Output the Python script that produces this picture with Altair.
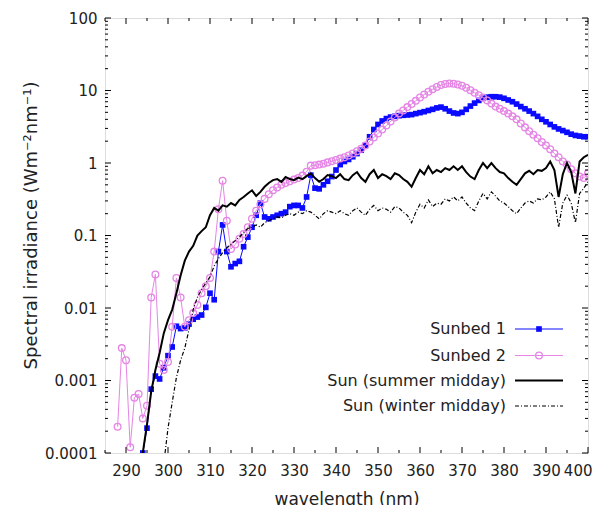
import altair as alt
import pandas as pd

# ---------------- data ----------------
WL_SUNBED1 = list(range(294, 401))
SUNBED1 = [
    0.0001, 0.00022, 0.00076, 0.00115, 0.00105, 0.0015, 0.0022, 0.0029, 0.0056, 0.0052,   # 294-303
    0.0053, 0.006, 0.007, 0.0075, 0.008, 0.0102, 0.016, 0.013, 0.06, 0.14,               # 304-313
    0.06, 0.037, 0.041, 0.044, 0.07, 0.095, 0.13, 0.19, 0.28, 0.18,                       # 314-323
    0.17, 0.18, 0.19, 0.2, 0.21, 0.25, 0.26, 0.26, 0.24, 0.34,                            # 324-333
    0.68, 0.45, 0.44, 0.5, 0.56, 0.65, 0.8, 0.95, 1.05, 1.12,                             # 334-343
    1.22, 1.35, 1.5, 1.75, 2.3, 2.9, 3.4, 3.8, 4.1, 4.3,                                  # 344-353
    4.4, 4.5, 4.55, 4.6, 4.65, 4.8, 4.95, 5.1, 5.3, 5.5,                                  # 354-363
    5.75, 5.9, 5.6, 5.2, 4.9, 4.8, 5.0, 5.5, 6.1, 6.7,                                    # 364-373
    7.3, 7.8, 8.1, 8.2, 8.2, 8.1, 7.8, 7.4, 7.0, 6.5,                                     # 374-383
    6.0, 5.6, 5.2, 4.8, 4.4, 4.0, 3.7, 3.4, 3.15, 2.95,                                   # 384-393
    2.8, 2.65, 2.5, 2.4, 2.35, 2.3, 2.3,                                                  # 394-400
]

WL_SUNBED2 = list(range(288, 401))
SUNBED2 = [
    0.00023, 0.0028, 0.0019, 0.00012, 0.00058, 0.00065, 0.0003, 0.00045, 0.014, 0.029,    # 288-297
    0.0017, 0.0014, 0.0018, 0.0055, 0.026, 0.014, 0.0055, 0.0068, 0.0085, 0.011,          # 298-307
    0.016, 0.02, 0.026, 0.06, 0.23, 0.57, 0.16, 0.065, 0.075, 0.09,                       # 308-317
    0.105, 0.13, 0.17, 0.22, 0.27, 0.32, 0.37, 0.42, 0.46, 0.5,                           # 318-327
    0.53, 0.56, 0.59, 0.62, 0.67, 0.76, 0.92, 0.93, 0.95, 0.98,                           # 328-337
    1.02, 1.06, 1.1, 1.15, 1.2, 1.27, 1.35, 1.45, 1.57, 1.75,                             # 338-347
    1.98, 2.25, 2.55, 2.9, 3.3, 3.75, 4.25, 4.8, 5.3, 5.9,                                # 348-357
    6.5, 7.2, 8.0, 8.8, 9.6, 10.4, 11.2, 11.9, 12.3, 12.5,                                # 358-367
    12.4, 12.1, 11.6, 10.9, 10.1, 9.3, 8.6, 8.0, 7.3, 6.6,                                # 368-377
    6.0, 5.6, 5.2, 4.8, 4.4, 4.0, 3.5, 3.1, 2.75, 2.45,                                   # 378-387
    2.2, 1.95, 1.75, 1.55, 1.35, 1.2, 1.05, 0.95, 0.82, 0.72,                             # 388-397
    0.65, 0.62, 0.72,                                                                     # 398-400
]

WL_SUMMER = list(range(294, 401))
SUMMER = [
    0.0001, 0.00025, 0.0007, 0.0014, 0.0024, 0.0045, 0.0068, 0.0095, 0.016, 0.028,        # 294-303
    0.045, 0.06, 0.072, 0.1, 0.115, 0.13, 0.19, 0.24, 0.22, 0.26,                         # 304-313
    0.25, 0.28, 0.26, 0.31, 0.34, 0.38, 0.42, 0.35, 0.4, 0.47,                            # 314-323
    0.53, 0.58, 0.6, 0.55, 0.64, 0.6, 0.58, 0.63, 0.6, 0.66,                              # 324-333
    0.72, 0.62, 0.55, 0.6, 0.68, 0.66, 0.62, 0.7, 0.6, 0.58,                              # 334-343
    0.68, 0.75, 0.62, 0.55, 0.7, 0.8, 0.62, 0.7, 0.66, 0.6,                               # 344-353
    0.72, 0.68, 0.6, 0.55, 0.47, 0.62, 0.8, 0.7, 0.9, 0.72,                               # 354-363
    0.8, 0.75, 0.85, 0.8, 0.9, 0.8, 0.9, 0.75, 0.65, 0.6,                                 # 364-373
    0.8, 1.0, 0.85, 1.0, 0.85, 0.75, 0.72, 0.62, 0.55, 0.5,                               # 374-383
    0.6, 0.72, 0.78, 0.7, 0.8, 0.78, 0.85, 1.05, 0.8, 0.34,                               # 384-393
    0.7, 1.0, 0.75, 0.38, 1.05, 1.2, 1.3,                                                 # 394-400
]

WL_WINTER = [299.3] + list(range(300, 401))
WINTER = [
    0.0001,                                                                               # 299.3
    0.00022, 0.0005, 0.0011, 0.0019, 0.0028, 0.005, 0.0095, 0.014, 0.018, 0.022,          # 300-309
    0.027, 0.038, 0.048, 0.058, 0.068, 0.075, 0.085, 0.095, 0.11, 0.125,                  # 310-319
    0.13, 0.14, 0.13, 0.15, 0.16, 0.17, 0.18, 0.175, 0.19, 0.2,                           # 320-329
    0.19, 0.21, 0.2, 0.22, 0.21, 0.19, 0.17, 0.2, 0.22, 0.21,                             # 330-339
    0.2, 0.22, 0.2, 0.19, 0.22, 0.24, 0.21, 0.19, 0.23, 0.26,                             # 340-349
    0.22, 0.24, 0.23, 0.21, 0.25, 0.24, 0.21, 0.19, 0.15, 0.21,                           # 350-359
    0.27, 0.24, 0.31, 0.25, 0.28, 0.27, 0.32, 0.3, 0.34, 0.3,                             # 360-369
    0.34, 0.28, 0.24, 0.22, 0.3, 0.38, 0.32, 0.4, 0.35, 0.3,                              # 370-379
    0.28, 0.25, 0.22, 0.2, 0.24, 0.28, 0.3, 0.28, 0.32, 0.31,                             # 380-389
    0.34, 0.4, 0.32, 0.13, 0.28, 0.36, 0.28, 0.15, 0.38, 0.45,                            # 390-399
    0.55,                                                                                 # 400
]

SERIES = ["Sunbed 1", "Sunbed 2", "Sun (summer midday)", "Sun (winter midday)"]
X_LABELS = [290, 300, 310, 320, 330, 340, 350, 360, 370, 380, 390, 400]
X_MINOR = [285, 295, 305, 315, 325, 335, 345, 355, 365, 375, 385, 395]
Y_LABELS = [0.0001, 0.001, 0.01, 0.1, 1, 10, 100]
Y_MINOR = [m * d for d in [0.0001, 0.001, 0.01, 0.1, 1, 10] for m in range(2, 10)]

# ---------------- styling ----------------
FONT = "DejaVu Sans"
W, H = 483, 435
BLUE = "#0a0aff"
PINK = "#e585e5"
TXT = "#222222"

xscale = alt.Scale(domain=[285, 400], nice=False, zero=False)
yscale = alt.Scale(type="log", domain=[0.0001, 100], nice=False)

df1 = pd.DataFrame({"wavelength": WL_SUNBED1, "irradiance": SUNBED1})
df2 = pd.DataFrame({"wavelength": WL_SUNBED2, "irradiance": SUNBED2})
dfs = pd.DataFrame({"wavelength": WL_SUMMER, "irradiance": SUMMER})
dfw = pd.DataFrame({"wavelength": WL_WINTER, "irradiance": WINTER})

X = alt.X("wavelength:Q", scale=xscale,
          axis=alt.Axis(values=X_LABELS, title="wavelength (nm)", grid=False, ticks=False,
                        domain=False, labelFontSize=15, labelFont=FONT, labelColor=TXT,
                        labelPadding=10, labelFlush=1, labelFlushOffset=4,
                        titleFont=FONT, titleFontSize=17, titleFontWeight="normal",
                        titleColor=TXT, titleY=46, titleBaseline="middle"))
Y = alt.Y("irradiance:Q", scale=yscale,
          axis=alt.Axis(values=Y_LABELS, format="~g", title="Spectral irradiance (Wm⁻²nm⁻¹)",
                        grid=False, ticks=False, domain=False, labelFontSize=15,
                        labelFont=FONT, labelColor=TXT, labelPadding=8, labelFlush=False,
                        titleFont=FONT, titleFontSize=18, titleFontWeight="normal",
                        titleColor=TXT, titleX=-74, titleY=207, titleBaseline="middle",
                        titleAlign="center"))

line1 = alt.Chart(df1).mark_line(color=BLUE, strokeWidth=1, clip=True).encode(x=X, y=Y)
pts1 = alt.Chart(df1).mark_point(shape="square", filled=True, size=32, color=BLUE,
                                 opacity=1, clip=True).encode(x="wavelength:Q", y="irradiance:Q")
line2 = alt.Chart(df2).mark_line(color=PINK, strokeWidth=1, clip=True).encode(
    x="wavelength:Q", y="irradiance:Q")
pts2 = alt.Chart(df2).mark_point(shape="circle", filled=False, size=45, color=PINK,
                                 strokeWidth=1.3, opacity=1, clip=True).encode(
    x="wavelength:Q", y="irradiance:Q")
summer = alt.Chart(dfs).mark_line(color="black", strokeWidth=2, clip=True).encode(
    x="wavelength:Q", y="irradiance:Q")
winter = alt.Chart(dfw).mark_line(color="black", strokeWidth=1.2, strokeDash=[4, 2, 1, 2],
                                  clip=True).encode(x="wavelength:Q", y="irradiance:Q")

# inward tick marks on all four sides
xt_major = pd.DataFrame({"wavelength": X_LABELS})
xt_minor = pd.DataFrame({"wavelength": X_MINOR})
yt_major = pd.DataFrame({"irradiance": Y_LABELS})
yt_minor = pd.DataFrame({"irradiance": Y_MINOR})


def xticks(df, length):
    b = alt.Chart(df).mark_rule(color="black", strokeWidth=1).encode(
        x="wavelength:Q", y=alt.value(H), y2=alt.value(H - length))
    t = alt.Chart(df).mark_rule(color="black", strokeWidth=1).encode(
        x="wavelength:Q", y=alt.value(0), y2=alt.value(length))
    return [b, t]


def yticks(df, length):
    l = alt.Chart(df).mark_rule(color="black", strokeWidth=1).encode(
        y="irradiance:Q", x=alt.value(0), x2=alt.value(length))
    r = alt.Chart(df).mark_rule(color="black", strokeWidth=1).encode(
        y="irradiance:Q", x=alt.value(W), x2=alt.value(W - length))
    return [l, r]


ticks = xticks(xt_major, 6) + xticks(xt_minor, 3) + yticks(yt_major, 6) + yticks(yt_minor, 3)

# legend (inside, lower right)
ROWS = [311, 337.5, 362.5, 388]
leg = []
styles = [
    dict(color=BLUE, strokeWidth=1),
    dict(color=PINK, strokeWidth=1),
    dict(color="black", strokeWidth=2),
    dict(color="black", strokeWidth=1.2, strokeDash=[4, 2, 1, 2]),
]
for name, ry, st in zip(SERIES, ROWS, styles):
    d = pd.DataFrame({"label": [name]})
    leg.append(alt.Chart(d).mark_text(align="right", baseline="middle", font=FONT,
                                      fontSize=16, color=TXT).encode(
        x=alt.value(401), y=alt.value(ry), text="label:N"))
    leg.append(alt.Chart(d).mark_rule(**st).encode(
        x=alt.value(410), x2=alt.value(458), y=alt.value(ry)))
leg.append(alt.Chart(pd.DataFrame({"label": [SERIES[0]]})).mark_point(
    shape="square", filled=True, size=32, color=BLUE, opacity=1).encode(
    x=alt.value(434), y=alt.value(ROWS[0])))
leg.append(alt.Chart(pd.DataFrame({"label": [SERIES[1]]})).mark_point(
    shape="circle", filled=False, size=45, color=PINK, strokeWidth=1.3, opacity=1).encode(
    x=alt.value(434), y=alt.value(ROWS[1])))

chart = alt.layer(line1, pts1, line2, pts2, summer, winter, *ticks, *leg).properties(
    width=W, height=H,
    autosize=alt.AutoSizeParams(type="none"),
    padding={"left": 97, "top": 10, "right": 5, "bottom": 52},
).configure_view(stroke="black", strokeWidth=1.2).configure(background="white")

chart.save("out.html", embed_options={"renderer": "svg", "actions": False})
